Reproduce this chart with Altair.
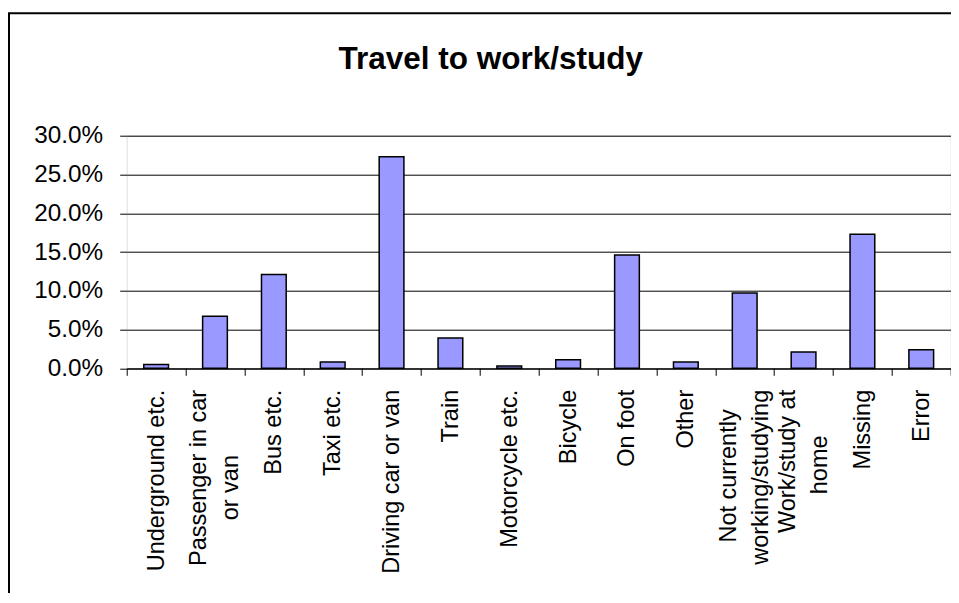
import altair as alt
import pandas as pd

NBSP = "\u00a0"
ZWSP = "\u200b"  # keeps the padding NBSPs from being trimmed

# Category labels ("|" separates label lines; NBSPs centre the short line)
categories = [
    "Underground etc.",
    "Passenger in car|or van" + NBSP * 10 + ZWSP,
    "Bus etc.",
    "Taxi etc.",
    "Driving car or van",
    "Train",
    "Motorcycle etc.",
    "Bicycle",
    "On foot",
    "Other",
    "Not currently" + NBSP * 3 + ZWSP + "|working/studying",
    "Work/study at|home" + NBSP * 7 + ZWSP,
    "Missing",
    "Error",
]

# Share of respondents, in percent
values = [0.5, 6.7, 12.1, 0.8, 27.3, 3.9, 0.3, 1.1, 14.6, 0.8, 9.7, 2.1, 17.3, 2.4]

y_ticks = [0.0, 0.05, 0.10, 0.15, 0.20, 0.25, 0.30]

df = pd.DataFrame({"category": categories, "share": [v / 100 for v in values]})

FONT = "Liberation Sans"
W, H = 824, 232.6
LH = 32

bars = alt.Chart(df).mark_bar(
    color="#9999FF", stroke="black", strokeWidth=1.5, width={"band": 0.42}
).encode(
    x=alt.X(
        "category:N",
        sort=None,
        title=None,
        scale=alt.Scale(paddingInner=0, paddingOuter=0),
        axis=alt.Axis(
            labelAngle=270,
            labelAlign="right",
            labelBaseline="middle",
            labelExpr="split(datum.label, '|')",
            labelFont=FONT,
            labelFontSize=23.5,
            labelColor="black",
            labelLineHeight=LH,
            labelPadding=14,
            labelLimit=0,
            labelOverlap=False,
            labelOffset={
                "condition": {"test": "indexof(datum.label, '|') >= 0", "value": -LH / 2},
                "value": 0,
            },
            tickBand="extent",
            tickSize=7,
            tickColor="black",
            domainColor="black",
            grid=False,
        ),
    ),
    y=alt.Y(
        "share:Q",
        title=None,
        scale=alt.Scale(domain=[0, 0.3], nice=False),
        axis=alt.Axis(
            values=y_ticks,
            format=".1%",
            labelFont=FONT,
            labelFontSize=24.3,
            labelColor="black",
            labelPadding=17,
            tickSize=7,
            tickColor="black",
            domain=False,
            grid=True,
            gridColor="black",
            gridWidth=1,
            gridOpacity=1,
        ),
    ),
)

frame_src = alt.Data(values=[{"f": 1}])
frame = alt.Chart(frame_src).mark_rect(
    fill="transparent", stroke="black", strokeWidth=2
).encode(
    x=alt.value(-117.7), x2=alt.value(900), y=alt.value(-122.5), y2=alt.value(520)
)

chart = alt.layer(bars, frame).properties(
    width=W,
    height=H,
    autosize="none",
    padding={"left": 118.7, "top": 127.7, "right": 0, "bottom": 224.7},
    title=alt.TitleParams(
        "Travel to work/study",
        font=FONT,
        fontSize=31.5,
        fontWeight="bold",
        color="black",
        anchor="middle",
        frame="group",
        dx=-48,
        offset=-88.2,
        baseline="alphabetic",
    ),
).configure_view(
    fill="#C0C0C0", stroke="#808080", strokeWidth=1
).configure(background="white")

chart.save("out.html", embed_options={"renderer": "svg", "actions": False})
